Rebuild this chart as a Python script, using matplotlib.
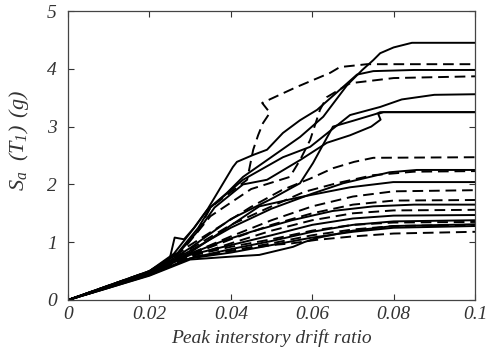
import matplotlib
matplotlib.use("Agg")
import matplotlib.pyplot as plt

plt.rcParams['font.family'] = ['Liberation Serif', 'DejaVu Serif']
plt.rcParams['font.style'] = 'italic'
plt.rcParams['mathtext.fontset'] = 'custom'
plt.rcParams['mathtext.it'] = 'Liberation Serif:italic'
plt.rcParams['mathtext.rm'] = 'Liberation Serif:italic'

# Solid IDA curves (drift, Sa)
s1_x = [0, 0.01, 0.02, 0.026, 0.031, 0.0342, 0.039, 0.043, 0.0489, 0.057, 0.0627, 0.0686, 0.0723, 0.075, 0.0767, 0.080, 0.0845, 0.1]
s1_y = [0, 0.25, 0.50, 0.80, 1.25, 1.56, 1.85, 2.13, 2.42, 2.82, 3.17, 3.72, 3.98, 4.15, 4.27, 4.37, 4.45, 4.45]
s2_x = [0, 0.01, 0.02, 0.025, 0.0262, 0.0285, 0.031, 0.0342, 0.0405, 0.0415, 0.0455, 0.0489, 0.0528, 0.057, 0.0612, 0.0686, 0.071, 0.075, 0.085, 0.1]
s2_y = [0, 0.24, 0.49, 0.72, 1.08, 1.05, 1.25, 1.56, 2.30, 2.39, 2.51, 2.60, 2.89, 3.11, 3.29, 3.75, 3.90, 3.96, 3.98, 3.98]
s3_x = [0, 0.01, 0.02, 0.027, 0.032, 0.035, 0.043, 0.0528, 0.0595, 0.0693, 0.0767, 0.082, 0.09, 0.1]
s3_y = [0, 0.25, 0.50, 0.82, 1.25, 1.60, 2.08, 2.47, 2.65, 3.20, 3.34, 3.47, 3.55, 3.56]
s4_x = [0, 0.01, 0.02, 0.027, 0.032, 0.036, 0.043, 0.0489, 0.057, 0.0636, 0.0693, 0.0745, 0.0768, 0.0762, 0.0775, 0.1]
s4_y = [0, 0.25, 0.49, 0.80, 1.20, 1.60, 2.00, 2.08, 2.42, 2.72, 2.85, 3.00, 3.12, 3.22, 3.25, 3.25]
s5_x = [0, 0.01, 0.02, 0.025, 0.03, 0.04, 0.05, 0.057, 0.0602, 0.0651, 0.07, 0.0757, 0.0767, 0.1]
s5_y = [0, 0.24, 0.48, 0.68, 0.90, 1.40, 1.75, 2.02, 2.37, 3.00, 3.10, 3.22, 3.25, 3.25]
s6_x = [0, 0.01, 0.02, 0.03, 0.04, 0.05, 0.06, 0.0676, 0.079, 0.0857, 0.1]
s6_y = [0, 0.24, 0.47, 0.85, 1.25, 1.58, 1.84, 2.02, 2.21, 2.25, 2.25]
s7_x = [0, 0.01, 0.02, 0.03, 0.047, 0.057, 0.0693, 0.0799, 0.1]
s7_y = [0, 0.23, 0.46, 0.82, 1.62, 1.78, 1.95, 2.04, 2.04]
s8_x = [0, 0.01, 0.02, 0.03, 0.038, 0.045, 0.055, 0.065, 0.075, 0.085, 0.1]
s8_y = [0, 0.23, 0.46, 0.80, 1.02, 1.18, 1.38, 1.54, 1.62, 1.65, 1.65]
s9_x = [0, 0.01, 0.02, 0.03, 0.04, 0.05, 0.06, 0.07, 0.08, 0.1]
s9_y = [0, 0.22, 0.45, 0.78, 0.95, 1.12, 1.30, 1.41, 1.46, 1.47]
s10_x = [0, 0.01, 0.02, 0.03, 0.04, 0.05, 0.06, 0.07, 0.08, 0.1]
s10_y = [0, 0.22, 0.44, 0.72, 0.88, 1.02, 1.18, 1.30, 1.36, 1.38]
s11_x = [0, 0.01, 0.02, 0.03, 0.04, 0.047, 0.0553, 0.058, 0.061, 0.07, 0.08, 0.1]
s11_y = [0, 0.21, 0.42, 0.70, 0.75, 0.78, 0.92, 1.00, 1.07, 1.20, 1.28, 1.31]
s12_x = [0, 0.01, 0.02, 0.03, 0.04, 0.05, 0.06, 0.07, 0.08, 0.1]
s12_y = [0, 0.21, 0.43, 0.72, 0.82, 0.95, 1.08, 1.18, 1.25, 1.28]

# Dashed IDA curves (drift, Sa)
d1_x = [0, 0.01, 0.02, 0.027, 0.032, 0.035, 0.044, 0.0455, 0.0467, 0.0479, 0.0496, 0.0477, 0.052, 0.056, 0.0644, 0.0668, 0.0735, 0.1]
d1_y = [0, 0.24, 0.48, 0.80, 1.20, 1.60, 2.08, 2.60, 2.85, 3.06, 3.24, 3.41, 3.55, 3.68, 3.93, 4.03, 4.08, 4.08]
d2_x = [0, 0.01, 0.02, 0.028, 0.035, 0.045, 0.0545, 0.057, 0.0595, 0.0619, 0.0636, 0.0693, 0.08, 0.1]
d2_y = [0, 0.25, 0.50, 0.85, 1.45, 1.92, 2.13, 2.42, 2.77, 3.29, 3.51, 3.75, 3.84, 3.87]
d3_x = [0, 0.01, 0.02, 0.03, 0.0447, 0.0525, 0.0595, 0.0651, 0.0703, 0.075, 0.1]
d3_y = [0, 0.24, 0.48, 0.95, 1.60, 1.90, 2.10, 2.28, 2.39, 2.46, 2.47]
d4_x = [0, 0.01, 0.02, 0.03, 0.04, 0.05, 0.058, 0.066, 0.075, 0.085, 0.1]
d4_y = [0, 0.24, 0.47, 0.88, 1.30, 1.62, 1.87, 2.02, 2.16, 2.22, 2.23]
d5_x = [0, 0.01, 0.02, 0.03, 0.04, 0.05, 0.06, 0.07, 0.08, 0.1]
d5_y = [0, 0.23, 0.46, 0.80, 1.10, 1.38, 1.62, 1.79, 1.88, 1.90]
d6_x = [0, 0.01, 0.02, 0.03, 0.04, 0.05, 0.06, 0.07, 0.08, 0.1]
d6_y = [0, 0.23, 0.46, 0.78, 1.05, 1.30, 1.50, 1.65, 1.72, 1.73]
d7_x = [0, 0.01, 0.02, 0.03, 0.04, 0.05, 0.06, 0.07, 0.08, 0.1]
d7_y = [0, 0.22, 0.45, 0.75, 0.98, 1.20, 1.38, 1.50, 1.55, 1.56]
d8_x = [0, 0.01, 0.02, 0.03, 0.04, 0.05, 0.06, 0.07, 0.08, 0.1]
d8_y = [0, 0.22, 0.45, 0.76, 0.92, 1.05, 1.20, 1.30, 1.34, 1.35]
d9_x = [0, 0.01, 0.02, 0.03, 0.04, 0.05, 0.06, 0.07, 0.08, 0.1]
d9_y = [0, 0.22, 0.44, 0.74, 0.85, 0.98, 1.12, 1.22, 1.28, 1.30]
d10_x = [0, 0.01, 0.02, 0.03, 0.04, 0.05, 0.055, 0.061, 0.07, 0.08, 0.1]
d10_y = [0, 0.22, 0.44, 0.73, 0.85, 0.95, 0.98, 1.04, 1.10, 1.15, 1.18]

solid = [(s1_x, s1_y), (s2_x, s2_y), (s3_x, s3_y), (s4_x, s4_y), (s5_x, s5_y), (s6_x, s6_y),
         (s7_x, s7_y), (s8_x, s8_y), (s9_x, s9_y), (s10_x, s10_y), (s11_x, s11_y), (s12_x, s12_y)]
dashed = [(d1_x, d1_y), (d2_x, d2_y), (d3_x, d3_y), (d4_x, d4_y), (d5_x, d5_y),
          (d6_x, d6_y), (d7_x, d7_y), (d8_x, d8_y), (d9_x, d9_y), (d10_x, d10_y)]

xticks = [0, 0.02, 0.04, 0.06, 0.08, 0.1]
xticklabels = ['0', '0.02', '0.04', '0.06', '0.08', '0.1']
yticks = [0, 1, 2, 3, 4, 5]

fig = plt.figure(figsize=(4.93, 3.6), dpi=100)
ax = fig.add_axes([0.138, 0.1667, 0.8255, 0.8027])

for x, y in solid:
    ax.plot(x, y, color='black', lw=1.4)
for x, y in dashed:
    ax.plot(x, y, color='black', lw=1.4, linestyle=(0, (5.5, 3)))

ax.set_xlim(0, 0.1)
ax.set_ylim(0, 5)
ax.set_xticks(xticks)
ax.set_xticklabels(xticklabels)
ax.set_yticks(yticks)
ax.tick_params(direction='in', top=True, right=True, length=4, width=0.8,
               labelsize=14, colors='#333333', labelcolor='#333333')
ax.tick_params(axis='y', pad=8)
ax.tick_params(axis='x', pad=4)
for sp in ax.spines.values():
    sp.set_color('#444444')
    sp.set_linewidth(0.9)

ax.set_xlabel('Peak interstory drift ratio', fontsize=14, color='#333333', labelpad=5)
ax.set_ylabel(r'$S_a\ \ (T_1)\,\ (g)$', fontsize=16, color='#333333')
ax.yaxis.set_label_coords(-0.09, 0.55)

fig.savefig('out.png', dpi=100)
